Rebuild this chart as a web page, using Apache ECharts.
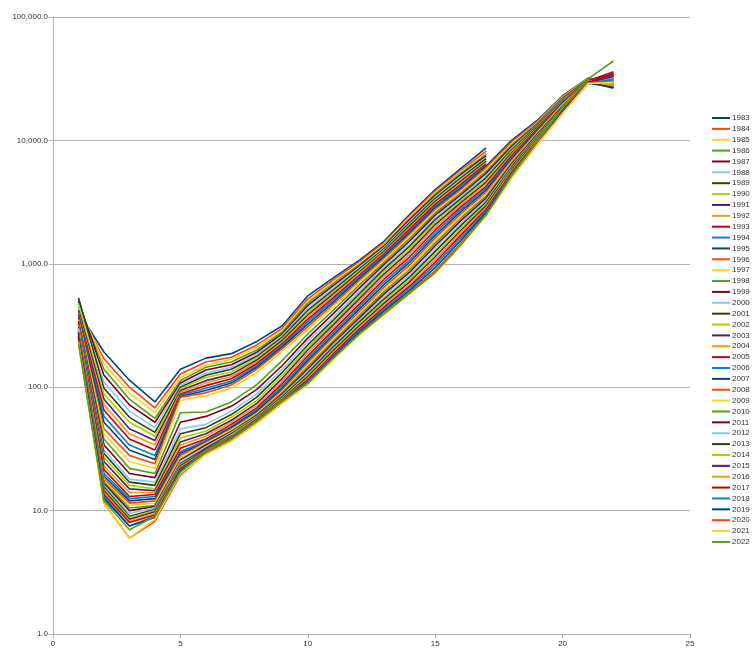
<!DOCTYPE html>
<html>
<head>
<meta charset="utf-8">
<script src="https://cdn.jsdelivr.net/npm/echarts@6/dist/echarts.min.js"></script>
<style>
html,body{margin:0;padding:0;background:#fff;}
#chart{width:755px;height:662px;}
</style>
</head>
<body>
<div id="chart"></div>
<script>
const ageIndex = [1,2,3,4,5,6,7,8,9,10,11,12,13,14,15,16,17,18,19,20,21,22];
const years = [1983,1984,1985,1986,1987,1988,1989,1990,1991,1992,1993,1994,1995,1996,1997,1998,1999,2000,2001,2002,2003,2004,2005,2006,2007,2008,2009,2010,2011,2012,2013,2014,2015,2016,2017,2018,2019,2020,2021,2022];
const yTickLabels = ['1.0','10.0','100.0','1,000.0','10,000.0','100,000.0'];
const xTickLabels = ['0','5','10','15','20','25'];

const v1983 = [405,193,114,76,140,172,187,235,315,550,770,1060,1530,2520,4000,5900,8700];
const v1984 = [420,170,100,68,128,160,175,220,300,520,740,1030,1490,2450,3880,5700,8200];
const v1985 = [460,155,90,62,120,150,168,210,290,500,715,1000,1450,2390,3770,5550,7900];
const v1986 = [470,140,80,56,113,145,160,200,280,480,690,975,1420,2330,3670,5400,7700];
const v1987 = [500,125,72,52,108,138,152,192,270,460,665,950,1390,2270,3570,5250,7500];
const v1988 = [480,110,64,47,104,130,145,185,262,440,640,925,1360,2210,3480,5100,7300];
const v1989 = [530,98,57,43,100,125,140,178,255,420,615,900,1330,2150,3390,4950,7100];
const v1990 = [450,88,52,40,97,120,133,172,247,400,590,875,1300,2090,3300,4800,6900];
const v1991 = [420,80,46,37,94,113,127,166,240,385,570,850,1270,2030,3210,4650,6750];
const v1992 = [400,72,42,34,91,108,122,160,232,370,550,825,1240,1970,3120,4500,6600];
const v1993 = [390,65,38,31,88,103,117,155,225,355,530,800,1210,1910,3030,4380,6450];
const v1994 = [380,58,34,28,86,98,112,150,218,340,510,775,1180,1850,2940,4250,6300];
const v1995 = [370,52,31,26,84,94,108,145,212,325,490,750,1150,1790,2850,4100,6200,10000,14500,23000,32000,30000];
const v1996 = [360,46,28,24,83,90,104,140,205,310,470,725,1110,1730,2760,3980,6000,9700,14200,22700,31800,28000];
const v1997 = [350,42,25,22,78,85,98,132,195,295,450,700,1070,1670,2670,3850,5800,9400,13900,22400,31600,31000];
const v1998 = [345,38,22,20,62,63,76,105,165,270,420,665,1030,1600,2580,3720,5600,9150,13700,22100,31400,29500];
const v1999 = [340,34,20,18.5,52,58,70,96,150,250,395,630,990,1530,2480,3600,5400,8900,13500,21800,31200,33000];
const v2000 = [330,31,18,17,46,50,64,88,140,235,370,595,950,1460,2380,3480,5200,8650,13300,21500,31000,32000];
const v2001 = [320,29,17,16,42,47,60,83,132,220,350,565,910,1390,2280,3360,5000,8400,13100,21200,30900,27000];
const v2002 = [310,27,16,15,39,44,57,78,125,210,335,540,870,1320,2180,3240,4800,8150,12900,21000,30800,30500];
const v2003 = [330,25,15,14.5,36,42,54,74,118,200,320,515,830,1260,2080,3120,4600,7900,12700,20800,30700,34000];
const v2004 = [320,23,14,14,34,40,52,71,112,190,305,490,790,1200,1980,3000,4420,7700,12500,20600,30600,29000];
const v2005 = [310,21.5,13,13.5,32,38,50,68,107,180,290,465,750,1140,1880,2880,4250,7500,12300,20400,30500,36000];
const v2006 = [300,20,12.5,13,30,37,48,66,102,172,277,445,715,1080,1790,2760,4100,7300,12100,20200,30400,33500];
const v2007 = [300,19,12,12.5,29,36,47,64,98,165,265,425,680,1030,1700,2650,3950,7100,11900,20000,30300,28500];
const v2008 = [290,18,11.5,12,28,35.5,46,62,95,158,255,405,650,980,1620,2540,3800,6900,11700,19700,30200,31500];
const v2009 = [300,17.5,11,11.5,27,35,45,61,92,152,245,390,620,935,1540,2430,3660,6700,11500,19400,30100,27500];
const v2010 = [290,17,10.5,11,26,34,44,60,90,146,236,375,595,895,1470,2330,3530,6550,11300,19100,30000,30000];
const v2011 = [280,16.5,10,10.8,25.5,34,43.5,59,88,140,228,360,570,855,1400,2230,3400,6400,11100,18800,29900,34500];
const v2012 = [290,16,9.5,10.5,25,33,43,58,86,135,220,347,545,815,1330,2130,3280,6250,10900,18500,29800,32500];
const v2013 = [280,15.5,9,10.2,24,32,42,57,84,130,212,335,520,780,1260,2040,3170,6100,10700,18300,29700,26500];
const v2014 = [270,15,8.8,10,23.5,31,41,56,82,126,205,323,500,745,1200,1950,3060,5950,10500,18100,29600,29000];
const v2015 = [270,14.5,8.5,9.8,23,31,40,55,80,122,198,312,480,715,1140,1860,2960,5800,10300,17900,29500,33000];
const v2016 = [260,14,8.2,9.5,22.5,30.5,39.5,54,79,118,192,302,462,685,1080,1780,2860,5650,10100,17700,29400,28000];
const v2017 = [260,13.5,8,9.2,22,30,39,53.5,78,115,186,293,445,660,1030,1700,2770,5500,9900,17500,29300,35000];
const v2018 = [250,13,7.5,9,21.5,30,38.5,53,77,112,181,285,430,635,980,1620,2680,5350,9700,17200,29200,31000];
const v2019 = [250,12.5,7.5,8.8,21,29.5,38,52.5,76,109,176,277,415,610,930,1540,2600,5200,9500,16900,29100,27000];
const v2020 = [240,11.5,6,8.2,19.5,29,37,52,75,107,172,270,400,590,880,1460,2520,5050,9300,16700,29000,30000];
const v2021 = [230,11.5,6,8.5,20,28.5,36.5,51,74,105,168,263,390,570,840,1400,2460,4950,9200,16500,28900,29500];
const v2022 = [225,12,7,9,20.5,30,38,53,77,108,172,268,395,580,850,1420,2500,5200,9800,18500,31500,44000];

const yearValues = [v1983,v1984,v1985,v1986,v1987,v1988,v1989,v1990,v1991,v1992,v1993,v1994,v1995,v1996,v1997,v1998,v1999,v2000,v2001,v2002,v2003,v2004,v2005,v2006,v2007,v2008,v2009,v2010,v2011,v2012,v2013,v2014,v2015,v2016,v2017,v2018,v2019,v2020,v2021,v2022];

const palette = ['#004586','#ff420e','#ffd320','#579d1c','#7e0021','#83caff','#314004','#aecf00','#4b1f6f','#ff950e','#c5000b','#0084d1'];

const series = years.map((yr, i) => ({
  name: String(yr),
  type: 'line',
  showSymbol: false,
  symbol: 'none',
  animation: false,
  lineStyle: { width: 1.6, color: palette[i % 12] },
  itemStyle: { color: palette[i % 12] },
  data: yearValues[i].map((v, k) => [ageIndex[k], v])
}));

const chart = echarts.init(document.getElementById('chart'), null, { renderer: 'canvas' });
const fontFam = '"Liberation Sans", Arial, sans-serif';
chart.setOption({
  animation: false,
  color: palette,
  grid: { left: 53, top: 17, width: 637, height: 617, containLabel: false },
  legend: {
    orient: 'vertical',
    left: 712,
    top: 113,
    padding: 0,
    icon: 'rect',
    itemWidth: 18,
    itemHeight: 2,
    itemGap: 0.87,
    textStyle: { fontSize: 8, fontFamily: fontFam, color: '#333', lineHeight: 10, padding: [0,0,0,-3] },
    data: years.map(String)
  },
  xAxis: {
    type: 'value',
    min: 0, max: 25, interval: 5,
    axisLine: { show: true, lineStyle: { color: '#b3b3b3', width: 1 } },
    axisTick: { show: true, length: 4, lineStyle: { color: '#b3b3b3' } },
    axisLabel: { fontSize: 8, fontFamily: fontFam, color: '#333', margin: 6,
      formatter: v => xTickLabels[Math.round(v / 5)] },
    splitLine: { show: false }
  },
  yAxis: {
    type: 'log', logBase: 10,
    min: 1, max: 100000,
    axisLine: { show: true, lineStyle: { color: '#b3b3b3', width: 1 } },
    axisTick: { show: true, length: 4, lineStyle: { color: '#b3b3b3' } },
    axisLabel: { fontSize: 8, fontFamily: fontFam, color: '#333', margin: 5,
      formatter: v => yTickLabels[Math.round(Math.log10(v))] },
    splitLine: { show: true, lineStyle: { color: '#b3b3b3', width: 1 } },
    minorTick: { show: false }
  },
  series: series
});
</script>
</body>
</html>
